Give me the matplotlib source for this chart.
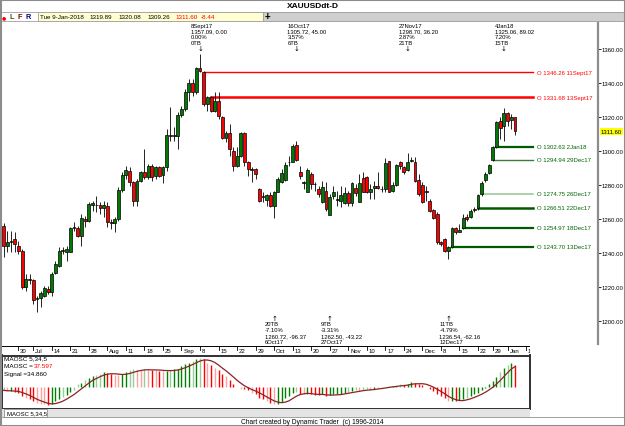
#!/usr/bin/env python3

import numpy as np
import pandas as pd
import matplotlib
matplotlib.use('Agg')
import matplotlib.pyplot as plt
from matplotlib.patches import Rectangle

plt.rcParams['font.family'] = ['Liberation Sans', 'DejaVu Sans']

# ------- DATA ------- #

holidays = pd.to_datetime(['2017-07-04', '2017-12-25', '2018-01-01'])
axis_days = pd.bdate_range('2017-06-26', '2018-01-12')
axis_days = axis_days[~axis_days.isin(holidays)]

opens = [1256.1, 1243.9, 1246.5, 1248.2, 1244.3, 1241.0, 1219.8, 1224.5, 1224.1, 1212.8,
         1213.3, 1214.9, 1218.8, 1216.9, 1228.0, 1232.5, 1241.8, 1240.8, 1240.8, 1255.1,
         1254.5, 1249.8, 1260.0, 1259.0, 1268.4, 1268.2, 1268.2, 1266.3, 1267.8, 1258.4,
         1257.5, 1260.0, 1277.1, 1285.9, 1288.4, 1281.6, 1270.8, 1282.2, 1287.5, 1284.5,
         1291.4, 1285.5, 1290.4, 1286.1, 1290.4, 1309.6, 1309.0, 1308.6, 1321.2, 1324.7,
         1334.5, 1339.8, 1334.5, 1348.8, 1346.26, 1327.6, 1331.68, 1323.7, 1329.6, 1319.8,
         1307.6, 1310.4, 1300.2, 1291.4, 1297.3, 1310.4, 1293.3, 1289.0, 1289.4, 1277.6,
         1273.5, 1271.4, 1274.1, 1267.8, 1276.1, 1281.6, 1283.1, 1293.3, 1293.7, 1303.5,
         1287.5, 1281.2, 1276.1, 1286.3, 1280.6, 1277.6, 1269.8, 1276.3, 1262.6, 1273.7,
         1271.2, 1270.8, 1269.2, 1275.1, 1269.4, 1278.2, 1270.2, 1284.1, 1284.5, 1275.7,
         1278.0, 1279.6, 1277.8, 1277.6, 1293.9, 1276.7, 1280.0, 1293.7, 1290.4, 1289.0,
         1294.3, 1293.3, 1283.1, 1280.0, 1276.3, 1270.8, 1265.3, 1262.9, 1246.7, 1248.2,
         1241.4, 1243.70, 1254.7, 1252.5, 1254.97, 1261.0, 1261.4, 1265.5, 1266.51, 1274.75,
         1283.1, 1287.1, 1294.94, 1302.63, 1317.8, 1314.5, 1322.4, 1318.5, 1319.89]
highs = [1257.5, 1253.1, 1253.1, 1252.5, 1247.3, 1242.4, 1227.6, 1227.6, 1224.7, 1214.9,
         1217.8, 1220.8, 1220.8, 1228.6, 1235.5, 1243.3, 1243.3, 1244.3, 1255.1, 1258.0,
         1256.1, 1262.9, 1262.0, 1269.8, 1270.8, 1273.7, 1269.8, 1270.8, 1269.8, 1260.0,
         1261.0, 1278.6, 1287.5, 1291.4, 1290.4, 1282.5, 1283.5, 1288.4, 1301.2, 1292.4,
         1292.4, 1291.4, 1291.4, 1291.4, 1312.9, 1325.7, 1313.9, 1322.7, 1326.7, 1336.5,
         1342.4, 1342.4, 1349.2, 1357.09, 1347.3, 1332.5, 1332.5, 1334.5, 1334.5, 1320.8,
         1312.0, 1315.9, 1302.2, 1302.2, 1310.9, 1311.0, 1294.3, 1290.4, 1289.8, 1278.0,
         1275.7, 1274.7, 1275.7, 1276.7, 1284.5, 1289.4, 1293.3, 1297.3, 1304.1, 1305.72,
         1291.4, 1282.5, 1289.8, 1287.5, 1282.0, 1279.6, 1282.5, 1281.6, 1274.7, 1279.6,
         1276.7, 1279.6, 1278.6, 1276.7, 1282.0, 1280.6, 1286.5, 1287.5, 1285.1, 1280.6,
         1282.5, 1287.5, 1279.6, 1295.7, 1294.3, 1281.6, 1292.4, 1294.3, 1291.0, 1298.70,
         1296.3, 1296.3, 1286.5, 1281.6, 1279.6, 1271.8, 1265.9, 1263.9, 1247.3, 1248.6,
         1244.3, 1255.1, 1255.1, 1257.1, 1262.9, 1262.9, 1265.9, 1266.9, 1274.7, 1282.5,
         1287.5, 1292.4, 1303.1, 1317.8, 1319.8, 1325.06, 1323.1, 1321.5, 1320.08]
lows = [1237.5, 1240.4, 1240.4, 1240.4, 1239.4, 1218.8, 1217.8, 1221.8, 1210.0, 1205.1,
        1208.0, 1213.9, 1215.9, 1214.9, 1227.6, 1231.6, 1239.4, 1235.5, 1240.4, 1253.1,
        1249.2, 1244.3, 1255.1, 1258.0, 1264.9, 1263.9, 1262.9, 1261.0, 1255.1, 1254.1,
        1252.2, 1259.0, 1275.7, 1283.5, 1279.6, 1267.8, 1267.8, 1281.6, 1283.5, 1283.5,
        1282.5, 1283.5, 1284.5, 1281.2, 1288.4, 1306.1, 1306.1, 1301.2, 1319.8, 1323.7,
        1329.6, 1332.5, 1333.5, 1346.3, 1326.7, 1323.7, 1322.7, 1322.7, 1318.8, 1307.1,
        1305.1, 1297.3, 1288.4, 1290.4, 1296.3, 1291.4, 1285.5, 1281.6, 1283.5, 1269.8,
        1269.8, 1267.8, 1266.9, 1260.72, 1275.7, 1281.2, 1282.5, 1291.4, 1293.3, 1294.3,
        1283.5, 1277.6, 1275.7, 1277.6, 1276.7, 1272.7, 1269.4, 1264.9, 1262.50, 1271.8,
        1267.8, 1266.9, 1268.8, 1267.8, 1267.8, 1273.7, 1269.8, 1275.7, 1275.3, 1271.8,
        1271.8, 1277.6, 1276.1, 1275.7, 1275.7, 1276.1, 1279.6, 1289.4, 1286.5, 1288.4,
        1293.3, 1282.0, 1273.7, 1269.4, 1270.8, 1263.9, 1260.0, 1245.3, 1244.3, 1240.4,
        1236.54, 1242.7, 1251.2, 1252.2, 1254.1, 1259.0, 1260.4, 1263.9, 1265.5, 1273.7,
        1281.6, 1286.5, 1294.3, 1301.8, 1307.1, 1306.1, 1314.5, 1313.0, 1309.26]
closes = [1243.9, 1246.3, 1246.9, 1245.3, 1241.4, 1219.8, 1224.7, 1224.3, 1212.4, 1213.3,
          1216.5, 1219.4, 1216.9, 1227.6, 1233.3, 1241.4, 1241.0, 1242.4, 1254.7, 1254.5,
          1249.8, 1260.4, 1259.0, 1268.8, 1269.2, 1268.0, 1266.3, 1268.2, 1258.4, 1257.5,
          1260.0, 1277.1, 1285.9, 1288.8, 1281.6, 1270.8, 1282.2, 1287.5, 1284.5, 1291.4,
          1284.9, 1290.4, 1285.5, 1290.4, 1309.6, 1309.0, 1309.2, 1321.2, 1324.7, 1334.5,
          1339.8, 1334.5, 1348.6, 1346.9, 1327.6, 1331.6, 1323.7, 1329.6, 1320.4, 1307.6,
          1310.4, 1301.2, 1291.4, 1296.9, 1310.4, 1293.3, 1289.4, 1289.6, 1286.5, 1270.8,
          1273.1, 1274.1, 1267.8, 1275.7, 1283.5, 1286.9, 1291.8, 1293.5, 1303.1, 1294.9,
          1285.1, 1281.4, 1289.0, 1280.6, 1280.4, 1274.7, 1278.6, 1265.9, 1273.1, 1275.7,
          1271.4, 1274.1, 1275.1, 1269.4, 1281.2, 1275.3, 1281.0, 1276.1, 1275.7, 1277.6,
          1279.6, 1278.0, 1277.6, 1292.9, 1276.1, 1280.0, 1291.8, 1291.0, 1287.8, 1293.7,
          1294.5, 1282.5, 1274.7, 1269.8, 1275.9, 1264.9, 1260.4, 1246.3, 1245.3, 1241.4,
          1243.3, 1254.7, 1252.2, 1253.7, 1260.6, 1260.0, 1264.9, 1265.7, 1274.1, 1281.2,
          1286.5, 1291.8, 1302.2, 1317.3, 1313.3, 1322.5, 1317.8, 1319.9, 1311.60]

# MAOSC 5,34,5 histogram
maosc = [-6.4, -7.5, -7.5, -8.7, -10.4, -16.2, -19.1, -20.8, -24.9, -27.7,
         -29.5, -30.6, -31.8, -29.5, -24.9, -20.8, -17.9, -15.0, -9.2, -5.2,
         4.0, 6.9, 11.0, 14.5, 17.9, 20.2, 22.5, 24.9, 23.1, 21.4,
         20.2, 19.8, 21.4, 24.9, 28.3, 30.1, 28.9, 28.3, 30.1, 29.5,
         29.0, 28.3, 27.8, 27.2, 27.6, 28.3, 30.1, 31.5, 35.8, 38.7,
         41.6, 44.5, 47.4, 50.3, 47.4, 41.6, 37.6, 32.9, 28.3, 21.4,
         18.5, 11.0, 5.2, -0.6, -3.5, -4.0, -6.4, -10.4, -13.3, -19.1,
         -20.8, -24.9, -27.7, -30.6, -29.5, -26.0, -20.2, -16.2, -10.4, -9.5,
         -12.1, -13.3, -12.1, -13.3, -13.6, -14.5, -13.3, -16.2, -15.0, -13.3,
         -12.1, -11.8, -10.4, -8.7, -7.5, -6.4, -6.6, -5.2, -4.6, -4.9,
         -3.5, -2.3, -0.9, 0.3, 0.6, 1.2, 1.7, 4.0, 2.6, 4.0,
         8.1, 6.4, 4.0, 3.5, -0.6, -3.5, -7.5, -13.3, -16.2, -20.2,
         -25.5, -25.0, -25.4, -23.7, -20.8, -19.1, -16.2, -13.3, -10.4, -6.4,
         -1.7, 4.0, 9.8, 16.8, 25.0, 32.0, 38.2, 41.505, 37.597]

# swing labels
top_dates = ['2017-09-08', '2017-10-16', '2017-11-27', '2018-01-04']
top_notes = [['8Sept17', '1357.09, 0.00', '0.00%', '0TB'],
             ['16Oct17', '1305.72, 45.00', '3.57%', '6TB'],
             ['27Nov17', '1298.70, 36.20', '2.87%', '21TB'],
             ['4Jan18', '1325.06, 89.02', '7.20%', '15TB']]
bot_dates = ['2017-10-06', '2017-10-27', '2017-12-12']
bot_notes = [['20TB', '-7.10%', '1260.72, -96.37', '6Oct17'],
             ['9TB', '-3.31%', '1262.50, -43.22', '27Oct17'],
             ['11TB', '-4.79%', '1236.54, -62.16', '12Dec17']]

# open-price lines
line_prices = [1346.26, 1331.68, 1302.63, 1294.94, 1274.75, 1266.51, 1254.97, 1243.70]
line_dates = ['2017-09-11', '2017-09-13', '2018-01-02', '2017-12-29',
              '2017-12-26', '2017-12-22', '2017-12-18', '2017-12-13']
line_tags = ['11Sept17', '13Sept17', '2Jan18', '29Dec17', '26Dec17', '22Dec17', '18Dec17', '13Dec17']
line_colors = ['#ff0000', '#ff0000', '#005a00', '#3c7f3c', '#9ccc9c', '#005a00', '#005a00', '#005a00']
line_widths = [1.0, 1.8, 1.6, 1.0, 1.2, 1.8, 1.6, 1.6]

price_ticks = np.arange(1200, 1361, 20)
day_change = -8.44

# ------- LAYOUT (pixel geometry of the 625x427 picture) ------- #

W, H = 625, 427
X0, DX = 3.6, 3.706          # pixel of first bar, pixels per bar
def bar_of(px):
    return (px - X0) / DX
def price_of(py):
    return 1360 - (py - 50) / 1.7
def idx(d):
    return axis_days.get_loc(pd.Timestamp(d))

fig = plt.figure(figsize=(W / 100, H / 100), dpi=100)
def px_axes(x0, y0, x1, y1):
    return fig.add_axes([x0 / W, 1 - y1 / H, (x1 - x0) / W, (y1 - y0) / H])
def ftext(x, y, s, **kw):
    return fig.text(x / W, 1 - y / H, s, **kw)

n = len(closes)
xs = np.arange(n)
o = np.array(opens); c = np.array(closes)
hi = np.array(highs); lo = np.array(lows)

# ------- PRICE PANEL ------- #
ax = px_axes(2, 22, 598, 345)
ax.set_xlim(bar_of(2), bar_of(598))
ax.set_ylim(price_of(345), price_of(22))
for s in ['top', 'left', 'bottom']:
    ax.spines[s].set_visible(False)
ax.spines['right'].set_color('#8c8c8c')
ax.spines['right'].set_linewidth(1.6)
ax.set_xticks([])
ax.yaxis.tick_right()
ax.set_yticks(price_ticks)
ax.set_yticklabels(['%.2f' % v for v in price_ticks])
ax.tick_params(axis='y', length=2, width=0.6, pad=0.5, labelsize=4.3)

ax.vlines(xs, lo, hi, color='black', lw=0.6, zorder=2)
for i in range(n):
    up = c[i] >= o[i]
    bottom = min(o[i], c[i])
    height = max(abs(c[i] - o[i]), 0.3)
    ax.add_patch(Rectangle((i - 0.39, bottom), 0.78, height,
                           facecolor='#007a00' if up else '#ff0000',
                           edgecolor='black', lw=0.5, zorder=3))

line_end, label_x = bar_of(533), bar_of(537)
for p, d, tag, col, lw in zip(line_prices, line_dates, line_tags, line_colors, line_widths):
    ax.plot([idx(d), line_end], [p, p], color=col, lw=lw, zorder=1)
    tcol = '#ff0000' if col == '#ff0000' else '#006400'
    ax.text(label_x, p, 'O %.2f %s' % (p, tag), color=tcol, fontsize=4.3,
            va='center', ha='left')

ax.text(bar_of(601), closes[-1], '%.2f' % closes[-1], fontsize=4.3, va='center', ha='left',
        bbox=dict(facecolor='#ffff00', edgecolor='none', pad=0.8), zorder=5, clip_on=False)

shift = 9 / DX
for d, lines in zip(top_dates, top_notes):
    i = idx(d)
    for k, s in enumerate(lines):
        ax.text(i - shift, price_of(26.5 + 5.7 * k), s, fontsize=4.2, va='center', ha='left')
    ax.text(i, price_of(49), '\u2193', fontsize=5, va='center', ha='center',
            family=['DejaVu Sans'])
for d, lines in zip(bot_dates, bot_notes):
    i = idx(d)
    ax.text(i, price_of(319.5), '\u2191', fontsize=5, va='center', ha='center',
            family=['DejaVu Sans'])
    for k, s in enumerate(lines):
        ax.text(i - shift, price_of(325 + 5.7 * k), s, fontsize=4.2, va='center', ha='left')

# ------- DATE AXIS ------- #
axd = px_axes(2, 345, 530, 356)
axd.set_xlim(bar_of(2), bar_of(530))
axd.set_ylim(0, 1)
axd.axis('off')
axd.plot([bar_of(2), bar_of(530)], [0.82, 0.82], color='black', lw=0.7)
for i, d in enumerate(axis_days):
    if d.dayofweek != 4:
        continue
    lab = d.strftime('%b') if d.day <= 7 else str(d.day)
    axd.plot([i, i], [0.82, 0.5], color='black', lw=0.6)
    axd.text(i + 0.5, 0.42, lab, fontsize=4.3, va='center', ha='left', clip_on=True)

# ------- MAOSC PANEL ------- #
axm = px_axes(2, 356.5, 530, 409.5)
axm.set_xlim(bar_of(2), bar_of(530))
axm.set_ylim(-37.8, 54.1)
axm.set_xticks([]); axm.set_yticks([])
for s in axm.spines.values():
    s.set_color('#303030')
    s.set_linewidth(1.4)

osc = np.array(maosc)
rising = np.diff(osc, prepend=osc[0]) >= 0
up_bar = c >= o
cols = np.where(rising, np.where(up_bar, '#008000', '#98cc98'),
                np.where(up_bar, '#ffa0a0', '#ff0000'))
axm.vlines(xs, 0, osc, colors=cols, lw=1.0)
signal = pd.Series(osc).rolling(5, min_periods=1).mean()
axm.plot(xs, signal, color='#8b2323', lw=0.9)

ftext(4, 359, 'MAOSC 5,34,5', fontsize=4.6, va='center')
ftext(4, 367, 'MAOSC =', fontsize=4.6, va='center')
ftext(34, 367, '%.3f' % osc[-1], fontsize=4.6, va='center', color='#ff0000')
ftext(4, 375, 'Signal =%.3f' % signal.iloc[-1], fontsize=4.6, va='center')

# ------- FRAME, HEADER, FOOTER ------- #
def frect(x0, y0, x1, y1, **kw):
    fig.patches.append(Rectangle((x0 / W, 1 - y1 / H), (x1 - x0) / W, (y1 - y0) / H,
                                 transform=fig.transFigure, **kw))

frect(0, 410, 530, 417.5, facecolor='#e4e4e4', edgecolor='none')
frect(4, 410, 47, 418, facecolor='white', edgecolor='#909090', lw=0.6)
ftext(7, 414, 'MAOSC 5,34,5', fontsize=4.3, va='center')
fig.add_artist(plt.Line2D([0, 1], [1 - 418 / H, 1 - 418 / H], color='#909090', lw=0.6))
ftext(312.5, 422.5, 'Chart created by Dynamic Trader  (c) 1996-2014', fontsize=4.8,
      va='center', ha='center')

ftext(312.5, 6, 'XAUUSDdt-D', fontsize=6, fontweight='bold', va='center', ha='center')
frect(0, 12.5, 625, 22, facecolor='white', edgecolor='#a0a0a0', lw=0.6)
frect(38, 12.5, 263, 22, facecolor='#ffffd2', edgecolor='#a0a0a0', lw=0.6)
frect(263, 12.5, 625, 22, facecolor='#cfcfcf', edgecolor='#a0a0a0', lw=0.6)
ftext(4, 17.3, '\u25cf', fontsize=3.5, color='#ff0000', va='center', ha='center',
      family=['DejaVu Sans'])
for x, s, col in [(10, 'L', '#4d4d00'), (18, 'F', '#800000'), (26, 'R', '#000080')]:
    ftext(x, 17.3, s, fontsize=5.2, fontweight='bold', color=col, va='center')
ftext(267, 17.3, '+', fontsize=7, fontweight='bold', va='center', ha='center')
head_vals = ['Tue 9-Jan-2018', '%.2f' % opens[-1], '%.2f' % highs[-1], '%.2f' % lows[-1],
             '%.2f' % closes[-1], '%.2f' % day_change]
for x, s, col in zip([40, 89, 118, 147, 175, 201], head_vals,
                     ['black'] * 4 + ['#ff0000'] * 2):
    ftext(x, 17.3, s, fontsize=4.5, color=col, va='center')

frect(0.5, 0.5, 624.5, 426.5, facecolor='none', edgecolor='#8c8c8c', lw=1.5)

plt.savefig('out.png', dpi=100)
